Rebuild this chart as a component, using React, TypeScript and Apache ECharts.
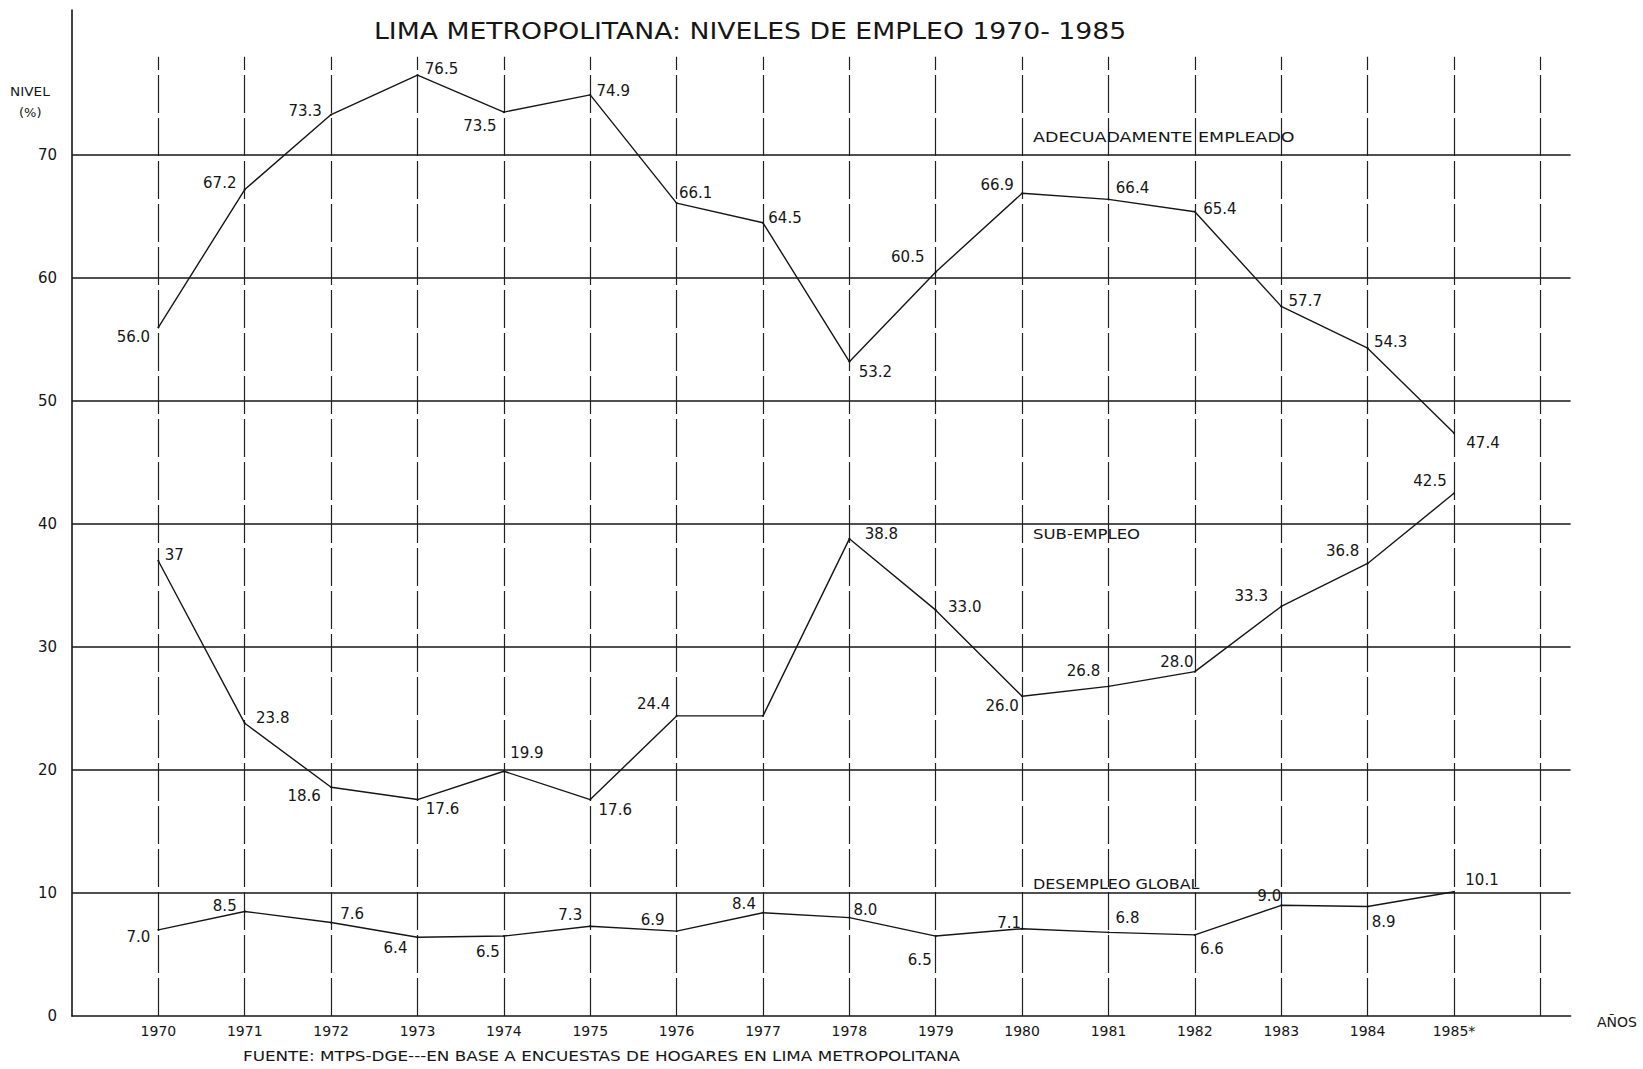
import React, { useEffect, useRef } from "react";
import * as echarts from "echarts";

const years = [1970, 1971, 1972, 1973, 1974, 1975, 1976, 1977, 1978, 1979, 1980, 1981, 1982, 1983, 1984, 1985];
const yearLabels = ["1970", "1971", "1972", "1973", "1974", "1975", "1976", "1977", "1978", "1979", "1980", "1981", "1982", "1983", "1984", "1985*"];
const gridYears = [...years, 1986];
const gridValues = [10, 20, 30, 40, 50, 60, 70];

const adecuado = [56.0, 67.2, 73.3, 76.5, 73.5, 74.9, 66.1, 64.5, 53.2, 60.5, 66.9, 66.4, 65.4, 57.7, 54.3, 47.4];
const adecuadoLabels = ["56.0", "67.2", "73.3", "76.5", "73.5", "74.9", "66.1", "64.5", "53.2", "60.5", "66.9", "66.4", "65.4", "57.7", "54.3", "47.4"];

const subempleo = [37.0, 23.8, 18.6, 17.6, 19.9, 17.6, 24.4, 24.4, 38.8, 33.0, 26.0, 26.8, 28.0, 33.3, 36.8, 42.5];
const subempleoLabels = ["37", "23.8", "18.6", "17.6", "19.9", "17.6", "24.4", "", "38.8", "33.0", "26.0", "26.8", "28.0", "33.3", "36.8", "42.5"];

const desempleo = [7.0, 8.5, 7.6, 6.4, 6.5, 7.3, 6.9, 8.4, 8.0, 6.5, 7.1, 6.8, 6.6, 9.0, 8.9, 10.1];
const desempleoLabels = ["7.0", "8.5", "7.6", "6.4", "6.5", "7.3", "6.9", "8.4", "8.0", "6.5", "7.1", "6.8", "6.6", "9.0", "8.9", "10.1"];

const title = "LIMA METROPOLITANA: NIVELES DE EMPLEO 1970- 1985";
const source = "FUENTE: MTPS-DGE---EN BASE A ENCUESTAS DE HOGARES EN LIMA METROPOLITANA";

const FONT = "DejaVu Sans";
const INK = "#161616";

// label offsets (label centre relative to the point), layout only
const adecuadoOffsets = [
  [-25, 10], [-25, -7], [-26, -4], [24, -6], [-24, 14], [23, -4], [19, -10], [22, -5],
  [26, 10], [-28, -15], [-25, -8], [24, -11], [25, -3], [24, -5], [23, -6], [29, 10],
];
const subempleoOffsets = [
  [16, -6], [28, -5], [-27, 9], [25, 9], [23, -18], [25, 10], [-23, -12], [0, 0],
  [32, -5], [29, -3], [-20, 10], [-25, -15], [-18, -10], [-30, -10], [-25, -12], [-24, -12],
];
const desempleoOffsets = [
  [-20, 7], [-20, -5], [21, -9], [-22, 11], [-16, 16], [-20, -11], [-24, -11], [-19, -9],
  [16, -8], [-16, 24], [-13, -6], [19, -14], [17, 14], [-12, -9], [16, 15], [28, -12],
];

function buildData(values: number[], offsets: number[][]) {
  return values.map((v, i) => ({
    value: [years[i], v],
    label: { offset: offsets[i] },
  }));
}

function lineSeries(name: string, values: number[], labels: string[], offsets: number[][], extra: any = {}) {
  return {
    name,
    type: "line",
    data: buildData(values, offsets),
    symbol: "circle",
    symbolSize: 2,
    itemStyle: { color: INK },
    lineStyle: { color: INK, width: 1.4 },
    label: {
      show: true,
      position: "inside",
      color: INK,
      fontFamily: FONT,
      fontSize: 15,
      textBorderWidth: 0,
      formatter: (p: any) => labels[p.dataIndex],
    },
    emphasis: { disabled: true },
    z: 3,
    ...extra,
  };
}

function txt(text: string, x: number, y: number, size: number, sx = 1) {
  return {
    type: "text",
    x,
    y,
    scaleX: sx,
    silent: true,
    style: {
      text,
      font: `${size}px '${FONT}'`,
      fill: INK,
      textVerticalAlign: "middle",
      verticalAlign: "middle",
    },
  };
}

export default function App() {
  const ref = useRef<HTMLDivElement>(null);

  useEffect(() => {
    document.body.style.margin = "0";
    if (!ref.current) return;
    const chart = echarts.init(ref.current, null, { renderer: "svg" });

    const horizontal = gridValues.map((v) => ({
      yAxis: v,
      lineStyle: { type: "solid", width: 1.6, color: INK },
    }));
    const vertical = gridYears.map((y) => [
      { coord: [y, 0], lineStyle: { type: [38, 5], width: 1.2, color: "#202020" } },
      { coord: [y, 78] },
    ]);

    const option: any = {
      animation: false,
      backgroundColor: "#ffffff",
      grid: { left: 72, top: 10, width: 1498.6, height: 1006, containLabel: false },
      xAxis: {
        type: "value",
        min: 1969,
        max: 1986.35,
        interval: 1,
        axisLine: { show: true, lineStyle: { color: INK, width: 1.6 } },
        axisTick: { show: false },
        splitLine: { show: false },
        axisLabel: {
          margin: 8,
          color: INK,
          fontFamily: FONT,
          fontSize: 14,
          formatter: (v: number) => {
            const i = years.indexOf(Math.round(v * 1000) / 1000);
            return i >= 0 ? yearLabels[i] : "";
          },
        },
      },
      yAxis: {
        type: "value",
        min: 0,
        max: 81.8,
        interval: 10,
        axisLine: { show: true, lineStyle: { color: INK, width: 1.6 } },
        axisTick: { show: false },
        splitLine: { show: false },
        axisLabel: {
          margin: 15,
          color: INK,
          fontFamily: FONT,
          fontSize: 15,
          formatter: (v: number) => (Number.isInteger(v) && v <= 70 ? String(v) : ""),
        },
      },
      graphic: [
        txt(title, 374, 31, 23, 1.16),
        txt("NIVEL", 10, 92, 13, 1.05),
        txt("(%)", 19, 112, 13),
        txt("ADECUADAMENTE EMPLEADO", 1033, 137, 14, 1.25),
        txt("SUB-EMPLEO", 1033, 534, 14, 1.18),
        txt("DESEMPLEO GLOBAL", 1033, 884, 14, 1.14),
        txt("AÑOS", 1597, 1022, 14),
        txt(source, 243, 1056, 14, 1.2),
      ],
      series: [
        lineSeries("ADECUADAMENTE EMPLEADO", adecuado, adecuadoLabels, adecuadoOffsets, {
          markLine: {
            silent: true,
            symbol: ["none", "none"],
            label: { show: false },
            emphasis: { disabled: true },
            lineStyle: { color: INK },
            data: [...horizontal, ...vertical],
            z: 1,
          },
        }),
        lineSeries("SUB-EMPLEO", subempleo, subempleoLabels, subempleoOffsets),
        lineSeries("DESEMPLEO GLOBAL", desempleo, desempleoLabels, desempleoOffsets),
      ],
    };

    chart.setOption(option);
    return () => chart.dispose();
  }, []);

  return <div ref={ref} style={{ width: 1643, height: 1069 }} />;
}
